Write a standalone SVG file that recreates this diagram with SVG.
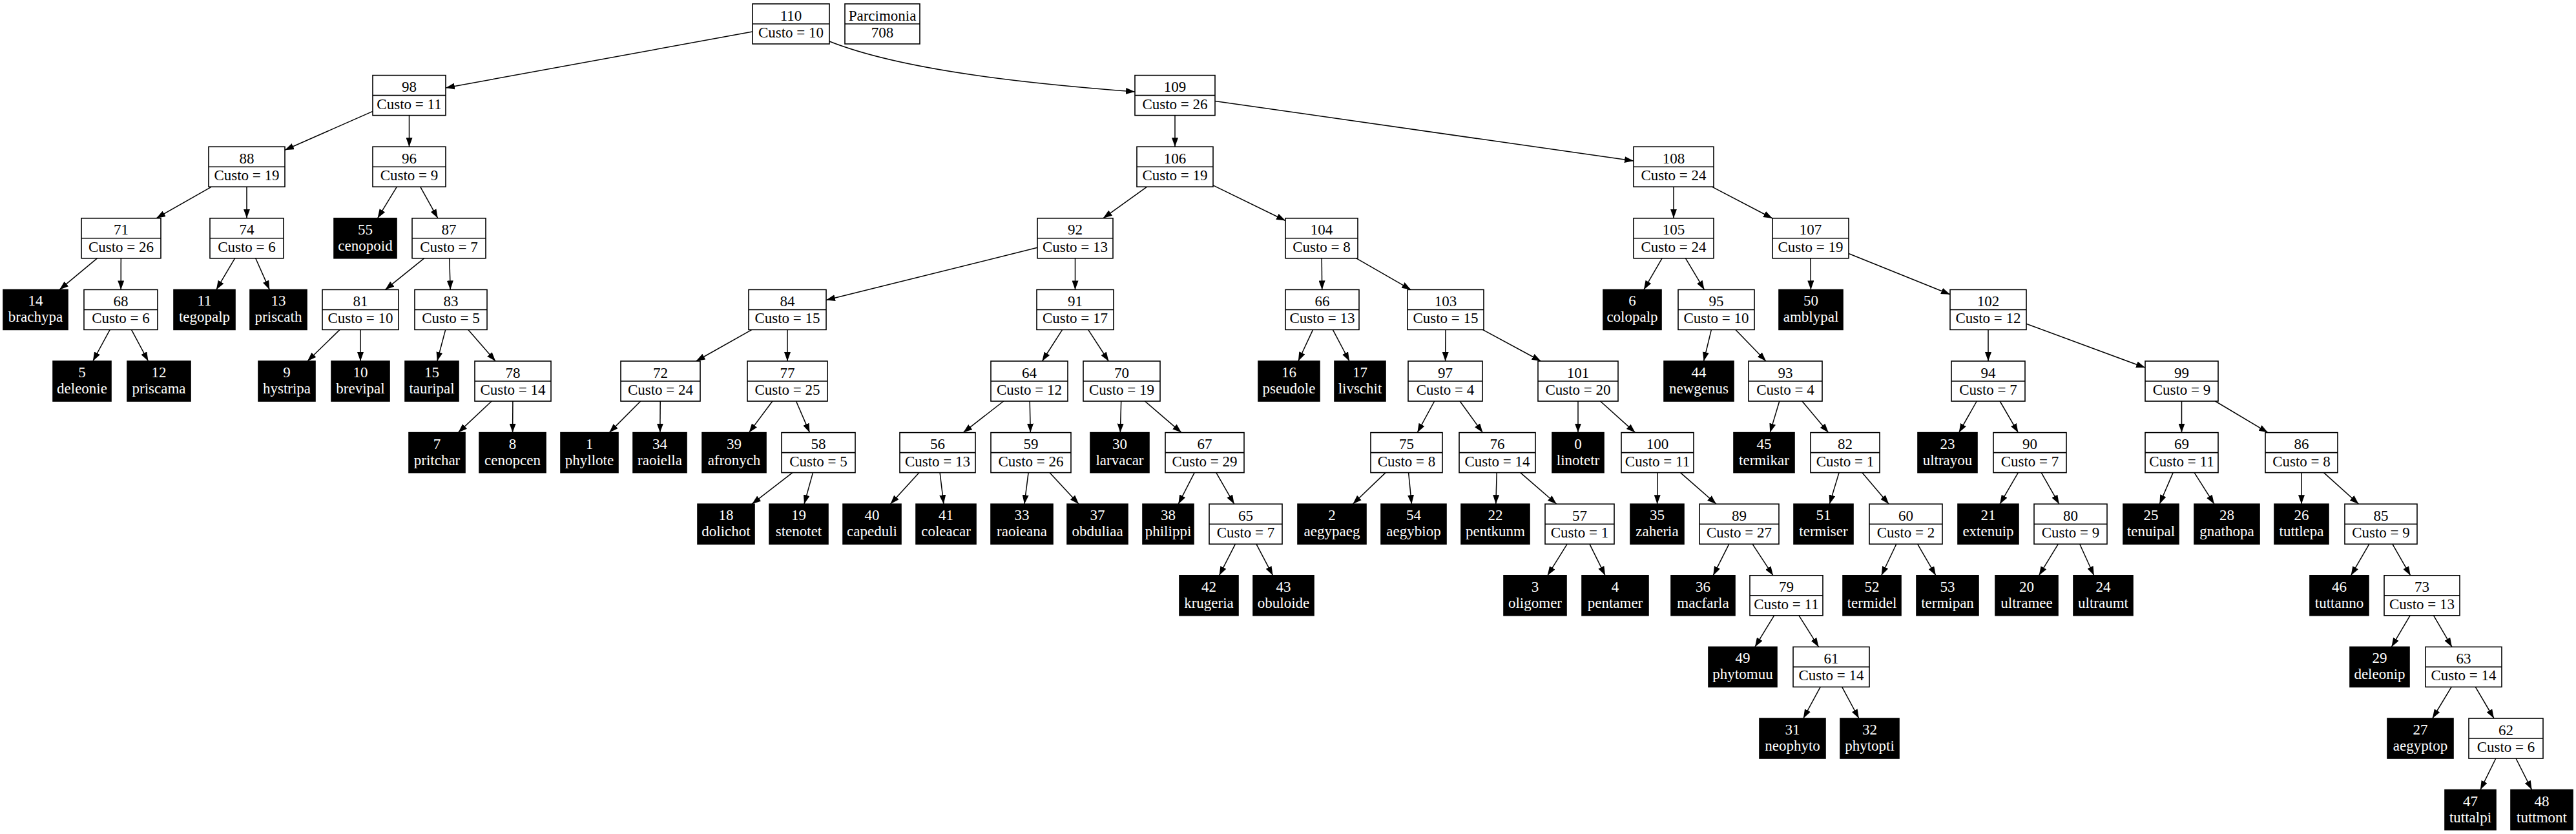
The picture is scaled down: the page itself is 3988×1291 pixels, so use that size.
<svg xmlns="http://www.w3.org/2000/svg" width="3988" height="1291" viewBox="0 0 3988 1291">
<style>
.r rect{fill:#fff;stroke:#000;stroke-width:1.6}
.r line{stroke:#000;stroke-width:1.6}
.l rect{fill:#000;stroke:#000;stroke-width:1.6}
text{font-family:"Liberation Serif","Times New Roman",serif;font-size:23px;text-anchor:middle}
.r text{fill:#000}
.l text{fill:#fff}
#edges path{fill:none;stroke:#000;stroke-width:1.5;marker-end:url(#ah)}
</style>
<defs>
<marker id="ah" markerUnits="userSpaceOnUse" markerWidth="14" markerHeight="10" viewBox="0 0 14 10" refX="14" refY="5" orient="auto">
<path d="M0,0 L14,5 L0,10 z" fill="#000"/>
</marker>
</defs>
<rect width="3988" height="1291" fill="#fff"/>
<g id="edges">
<path d="M1165,49 L690,136"/>
<path d="M1284,64 C1400,110 1600,130 1757,142"/>
<path d="M577,172.4 L441,232.3"/>
<path d="M633.5,178.6 L633.5,227.2"/>
<path d="M327.5,289.2 L242,337.8"/>
<path d="M382,289.2 L382,337.8"/>
<path d="M614.4,289.2 L584.6,337.8"/>
<path d="M650.7,289.2 L677.8,337.8"/>
<path d="M150.4,399.8 L92.1,448.4"/>
<path d="M187.3,399.8 L187.2,448.4"/>
<path d="M363.6,399.8 L334.9,448.4"/>
<path d="M395.7,399.8 L417.3,448.4"/>
<path d="M656.6,399.8 L596.4,448.4"/>
<path d="M695.8,399.8 L697.2,448.4"/>
<path d="M170.2,510.4 L143.8,559"/>
<path d="M203.5,510.4 L229.5,559"/>
<path d="M526,510.4 L476,559"/>
<path d="M558,510.4 L558,559"/>
<path d="M689.7,510.4 L676.8,559"/>
<path d="M724.9,510.4 L767.1,559"/>
<path d="M761.1,621 L709.4,669.6"/>
<path d="M793.9,621 L793.6,669.6"/>
<path d="M1819,178.6 L1819,227.2"/>
<path d="M1881,156.4 L2529,249.1"/>
<path d="M1775.7,289.2 L1707.8,337.8"/>
<path d="M1878,286.9 L1990,341.5"/>
<path d="M2591,289.2 L2591,337.8"/>
<path d="M2650.4,289.2 L2744,338"/>
<path d="M1606,383.3 L1279,464.5"/>
<path d="M1664.5,399.8 L1664.5,448.4"/>
<path d="M2046.2,399.8 L2046.7,448.4"/>
<path d="M2099.8,399.8 L2184.2,448.4"/>
<path d="M2573.1,399.8 L2544.9,448.4"/>
<path d="M2609.5,399.8 L2638.5,448.4"/>
<path d="M2803,399.8 L2803.4,448.4"/>
<path d="M2862,392.5 L3019,455.7"/>
<path d="M1163.9,510.4 L1077.6,559"/>
<path d="M1219,510.4 L1219,559"/>
<path d="M1644.6,510.4 L1613.4,559"/>
<path d="M1684.7,510.4 L1716.3,559"/>
<path d="M2032.6,510.4 L2009.9,559"/>
<path d="M2063.4,510.4 L2089.1,559"/>
<path d="M2238,510.4 L2237.6,559"/>
<path d="M2295.5,510.4 L2385.5,559"/>
<path d="M2649.4,510.4 L2637.6,559"/>
<path d="M2687,510.4 L2734,559"/>
<path d="M3078,510.4 L3078,559"/>
<path d="M3137,501.2 L3321,569.1"/>
<path d="M991.7,621 L943.3,669.6"/>
<path d="M1022.2,621 L1021.8,669.6"/>
<path d="M1195.9,621 L1159.6,669.6"/>
<path d="M1232.5,621 L1253.5,669.6"/>
<path d="M1553.7,621 L1491.3,669.6"/>
<path d="M1594.2,621 L1595.3,669.6"/>
<path d="M1735.7,621 L1734.3,669.6"/>
<path d="M1772.5,621 L1829,669.6"/>
<path d="M2220.7,621 L2194.3,669.6"/>
<path d="M2260.1,621 L2295.4,669.6"/>
<path d="M2443,621 L2443,669.6"/>
<path d="M2477.5,621 L2531.5,669.6"/>
<path d="M2754.8,621 L2740.2,669.6"/>
<path d="M2789.9,621 L2830.6,669.6"/>
<path d="M3060.3,621 L3032.7,669.6"/>
<path d="M3096.1,621 L3124.4,669.6"/>
<path d="M3377.5,621 L3377.5,669.6"/>
<path d="M3429.5,621 L3511,669.6"/>
<path d="M1226.9,731.6 L1164.1,780.2"/>
<path d="M1258.5,731.6 L1245,780.2"/>
<path d="M1423,731.6 L1378.5,780.2"/>
<path d="M1455.1,731.6 L1460.9,780.2"/>
<path d="M1592.1,731.6 L1585.9,780.2"/>
<path d="M1624.9,731.6 L1670.1,780.2"/>
<path d="M1849.2,731.6 L1824.3,780.2"/>
<path d="M1882.8,731.6 L1910.7,780.2"/>
<path d="M2145.1,731.6 L2094.4,780.2"/>
<path d="M2180.6,731.6 L2185.4,780.2"/>
<path d="M2317.2,731.6 L2315.8,780.2"/>
<path d="M2353.7,731.6 L2409.8,780.2"/>
<path d="M2566,731.6 L2565.6,780.2"/>
<path d="M2601.5,731.6 L2657,780.2"/>
<path d="M2847.1,731.6 L2832.4,780.2"/>
<path d="M2882.8,731.6 L2924.2,780.2"/>
<path d="M3124.4,731.6 L3096.1,780.2"/>
<path d="M3160.2,731.6 L3187.8,780.2"/>
<path d="M3364.2,731.6 L3343.3,780.2"/>
<path d="M3397.1,731.6 L3427.9,780.2"/>
<path d="M3563,731.6 L3563,780.2"/>
<path d="M3597.5,731.6 L3651.5,780.2"/>
<path d="M1912.5,842.2 L1887.5,890.8"/>
<path d="M1944.9,842.2 L1970.6,890.8"/>
<path d="M2426.2,842.2 L2395.8,890.8"/>
<path d="M2460.9,842.2 L2485.1,890.8"/>
<path d="M2676.8,842.2 L2652.2,890.8"/>
<path d="M2713,842.2 L2745,890.8"/>
<path d="M2935.8,842.2 L2912.7,890.8"/>
<path d="M2968.6,842.2 L2996.9,890.8"/>
<path d="M3186.4,842.2 L3156.6,890.8"/>
<path d="M3219.7,842.2 L3241.8,890.8"/>
<path d="M3667.9,842.2 L3639.6,890.8"/>
<path d="M3703.8,842.2 L3731.7,890.8"/>
<path d="M2746.6,952.8 L2716.9,1001.4"/>
<path d="M2785,952.8 L2815.5,1001.4"/>
<path d="M3731.1,952.8 L3702.4,1001.4"/>
<path d="M3767.6,952.8 L3795.9,1001.4"/>
<path d="M2818.2,1063.4 L2791.8,1112"/>
<path d="M2851.7,1063.4 L2877.8,1112"/>
<path d="M3795.2,1063.4 L3765.8,1112"/>
<path d="M3832.3,1063.4 L3861,1112"/>
<path d="M3863.9,1174 L3839.9,1222.6"/>
<path d="M3895,1174 L3919.6,1222.6"/>
</g>
<g id="n110" class="r" transform="translate(1165,6)"><rect width="119" height="62"/><line x1="0" y1="31" x2="119" y2="31"/><text x="59.5" y="25.5">110</text><text x="59.5" y="52">Custo = 10</text></g>
<g id="parcimonia" class="r" transform="translate(1308,6)"><rect width="116" height="62"/><line x1="0" y1="31" x2="116" y2="31"/><text x="58" y="25.5">Parcimonia</text><text x="58" y="52">708</text></g>
<g id="n98" class="r" transform="translate(577,116.6)"><rect width="113" height="62"/><line x1="0" y1="31" x2="113" y2="31"/><text x="56.5" y="25.5">98</text><text x="56.5" y="52">Custo = 11</text></g>
<g id="n109" class="r" transform="translate(1757,116.6)"><rect width="124" height="62"/><line x1="0" y1="31" x2="124" y2="31"/><text x="62" y="25.5">109</text><text x="62" y="52">Custo = 26</text></g>
<g id="n88" class="r" transform="translate(323,227.2)"><rect width="118" height="62"/><line x1="0" y1="31" x2="118" y2="31"/><text x="59" y="25.5">88</text><text x="59" y="52">Custo = 19</text></g>
<g id="n96" class="r" transform="translate(577,227.2)"><rect width="113" height="62"/><line x1="0" y1="31" x2="113" y2="31"/><text x="56.5" y="25.5">96</text><text x="56.5" y="52">Custo = 9</text></g>
<g id="n106" class="r" transform="translate(1760,227.2)"><rect width="118" height="62"/><line x1="0" y1="31" x2="118" y2="31"/><text x="59" y="25.5">106</text><text x="59" y="52">Custo = 19</text></g>
<g id="n108" class="r" transform="translate(2529,227.2)"><rect width="124" height="62"/><line x1="0" y1="31" x2="124" y2="31"/><text x="62" y="25.5">108</text><text x="62" y="52">Custo = 24</text></g>
<g id="n71" class="r" transform="translate(126,337.8)"><rect width="123" height="62"/><line x1="0" y1="31" x2="123" y2="31"/><text x="61.5" y="25.5">71</text><text x="61.5" y="52">Custo = 26</text></g>
<g id="n74" class="r" transform="translate(325,337.8)"><rect width="114" height="62"/><line x1="0" y1="31" x2="114" y2="31"/><text x="57" y="25.5">74</text><text x="57" y="52">Custo = 6</text></g>
<g id="n55" class="l" transform="translate(517,337.8)"><rect width="97" height="62"/><text x="48.5" y="25">55</text><text x="48.5" y="50">cenopoid</text></g>
<g id="n87" class="r" transform="translate(638,337.8)"><rect width="114" height="62"/><line x1="0" y1="31" x2="114" y2="31"/><text x="57" y="25.5">87</text><text x="57" y="52">Custo = 7</text></g>
<g id="n92" class="r" transform="translate(1606,337.8)"><rect width="117" height="62"/><line x1="0" y1="31" x2="117" y2="31"/><text x="58.5" y="25.5">92</text><text x="58.5" y="52">Custo = 13</text></g>
<g id="n104" class="r" transform="translate(1990,337.8)"><rect width="112" height="62"/><line x1="0" y1="31" x2="112" y2="31"/><text x="56" y="25.5">104</text><text x="56" y="52">Custo = 8</text></g>
<g id="n105" class="r" transform="translate(2529,337.8)"><rect width="124" height="62"/><line x1="0" y1="31" x2="124" y2="31"/><text x="62" y="25.5">105</text><text x="62" y="52">Custo = 24</text></g>
<g id="n107" class="r" transform="translate(2744,337.8)"><rect width="118" height="62"/><line x1="0" y1="31" x2="118" y2="31"/><text x="59" y="25.5">107</text><text x="59" y="52">Custo = 19</text></g>
<g id="n14" class="l" transform="translate(5,448.4)"><rect width="100" height="62"/><text x="50" y="25">14</text><text x="50" y="50">brachypa</text></g>
<g id="n68" class="r" transform="translate(130,448.4)"><rect width="114" height="62"/><line x1="0" y1="31" x2="114" y2="31"/><text x="57" y="25.5">68</text><text x="57" y="52">Custo = 6</text></g>
<g id="n11" class="l" transform="translate(269,448.4)"><rect width="95" height="62"/><text x="47.5" y="25">11</text><text x="47.5" y="50">tegopalp</text></g>
<g id="n13" class="l" transform="translate(387,448.4)"><rect width="88" height="62"/><text x="44" y="25">13</text><text x="44" y="50">priscath</text></g>
<g id="n81" class="r" transform="translate(499,448.4)"><rect width="118" height="62"/><line x1="0" y1="31" x2="118" y2="31"/><text x="59" y="25.5">81</text><text x="59" y="52">Custo = 10</text></g>
<g id="n83" class="r" transform="translate(642,448.4)"><rect width="112" height="62"/><line x1="0" y1="31" x2="112" y2="31"/><text x="56" y="25.5">83</text><text x="56" y="52">Custo = 5</text></g>
<g id="n84" class="r" transform="translate(1159,448.4)"><rect width="120" height="62"/><line x1="0" y1="31" x2="120" y2="31"/><text x="60" y="25.5">84</text><text x="60" y="52">Custo = 15</text></g>
<g id="n91" class="r" transform="translate(1605,448.4)"><rect width="119" height="62"/><line x1="0" y1="31" x2="119" y2="31"/><text x="59.5" y="25.5">91</text><text x="59.5" y="52">Custo = 17</text></g>
<g id="n66" class="r" transform="translate(1990,448.4)"><rect width="114" height="62"/><line x1="0" y1="31" x2="114" y2="31"/><text x="57" y="25.5">66</text><text x="57" y="52">Custo = 13</text></g>
<g id="n103" class="r" transform="translate(2179,448.4)"><rect width="118" height="62"/><line x1="0" y1="31" x2="118" y2="31"/><text x="59" y="25.5">103</text><text x="59" y="52">Custo = 15</text></g>
<g id="n6" class="l" transform="translate(2482,448.4)"><rect width="90" height="62"/><text x="45" y="25">6</text><text x="45" y="50">colopalp</text></g>
<g id="n95" class="r" transform="translate(2598,448.4)"><rect width="118" height="62"/><line x1="0" y1="31" x2="118" y2="31"/><text x="59" y="25.5">95</text><text x="59" y="52">Custo = 10</text></g>
<g id="n50" class="l" transform="translate(2754,448.4)"><rect width="99" height="62"/><text x="49.5" y="25">50</text><text x="49.5" y="50">amblypal</text></g>
<g id="n102" class="r" transform="translate(3019,448.4)"><rect width="118" height="62"/><line x1="0" y1="31" x2="118" y2="31"/><text x="59" y="25.5">102</text><text x="59" y="52">Custo = 12</text></g>
<g id="n5" class="l" transform="translate(82,559)"><rect width="90" height="62"/><text x="45" y="25">5</text><text x="45" y="50">deleonie</text></g>
<g id="n12" class="l" transform="translate(197,559)"><rect width="98" height="62"/><text x="49" y="25">12</text><text x="49" y="50">priscama</text></g>
<g id="n9" class="l" transform="translate(400,559)"><rect width="88" height="62"/><text x="44" y="25">9</text><text x="44" y="50">hystripa</text></g>
<g id="n10" class="l" transform="translate(513,559)"><rect width="90" height="62"/><text x="45" y="25">10</text><text x="45" y="50">brevipal</text></g>
<g id="n15" class="l" transform="translate(627,559)"><rect width="83" height="62"/><text x="41.5" y="25">15</text><text x="41.5" y="50">tauripal</text></g>
<g id="n78" class="r" transform="translate(735,559)"><rect width="118" height="62"/><line x1="0" y1="31" x2="118" y2="31"/><text x="59" y="25.5">78</text><text x="59" y="52">Custo = 14</text></g>
<g id="n72" class="r" transform="translate(961,559)"><rect width="123" height="62"/><line x1="0" y1="31" x2="123" y2="31"/><text x="61.5" y="25.5">72</text><text x="61.5" y="52">Custo = 24</text></g>
<g id="n77" class="r" transform="translate(1157,559)"><rect width="124" height="62"/><line x1="0" y1="31" x2="124" y2="31"/><text x="62" y="25.5">77</text><text x="62" y="52">Custo = 25</text></g>
<g id="n64" class="r" transform="translate(1534,559)"><rect width="119" height="62"/><line x1="0" y1="31" x2="119" y2="31"/><text x="59.5" y="25.5">64</text><text x="59.5" y="52">Custo = 12</text></g>
<g id="n70" class="r" transform="translate(1677,559)"><rect width="119" height="62"/><line x1="0" y1="31" x2="119" y2="31"/><text x="59.5" y="25.5">70</text><text x="59.5" y="52">Custo = 19</text></g>
<g id="n16" class="l" transform="translate(1948,559)"><rect width="95" height="62"/><text x="47.5" y="25">16</text><text x="47.5" y="50">pseudole</text></g>
<g id="n17" class="l" transform="translate(2066,559)"><rect width="79" height="62"/><text x="39.5" y="25">17</text><text x="39.5" y="50">livschit</text></g>
<g id="n97" class="r" transform="translate(2180,559)"><rect width="115" height="62"/><line x1="0" y1="31" x2="115" y2="31"/><text x="57.5" y="25.5">97</text><text x="57.5" y="52">Custo = 4</text></g>
<g id="n101" class="r" transform="translate(2381,559)"><rect width="124" height="62"/><line x1="0" y1="31" x2="124" y2="31"/><text x="62" y="25.5">101</text><text x="62" y="52">Custo = 20</text></g>
<g id="n44" class="l" transform="translate(2576,559)"><rect width="108" height="62"/><text x="54" y="25">44</text><text x="54" y="50">newgenus</text></g>
<g id="n93" class="r" transform="translate(2707,559)"><rect width="114" height="62"/><line x1="0" y1="31" x2="114" y2="31"/><text x="57" y="25.5">93</text><text x="57" y="52">Custo = 4</text></g>
<g id="n94" class="r" transform="translate(3021,559)"><rect width="114" height="62"/><line x1="0" y1="31" x2="114" y2="31"/><text x="57" y="25.5">94</text><text x="57" y="52">Custo = 7</text></g>
<g id="n99" class="r" transform="translate(3321,559)"><rect width="113" height="62"/><line x1="0" y1="31" x2="113" y2="31"/><text x="56.5" y="25.5">99</text><text x="56.5" y="52">Custo = 9</text></g>
<g id="n7" class="l" transform="translate(633,669.6)"><rect width="87" height="62"/><text x="43.5" y="25">7</text><text x="43.5" y="50">pritchar</text></g>
<g id="n8" class="l" transform="translate(742,669.6)"><rect width="103" height="62"/><text x="51.5" y="25">8</text><text x="51.5" y="50">cenopcen</text></g>
<g id="n1" class="l" transform="translate(868,669.6)"><rect width="89" height="62"/><text x="44.5" y="25">1</text><text x="44.5" y="50">phyllote</text></g>
<g id="n34" class="l" transform="translate(980,669.6)"><rect width="83" height="62"/><text x="41.5" y="25">34</text><text x="41.5" y="50">raoiella</text></g>
<g id="n39" class="l" transform="translate(1087,669.6)"><rect width="99" height="62"/><text x="49.5" y="25">39</text><text x="49.5" y="50">afronych</text></g>
<g id="n58" class="r" transform="translate(1210,669.6)"><rect width="114" height="62"/><line x1="0" y1="31" x2="114" y2="31"/><text x="57" y="25.5">58</text><text x="57" y="52">Custo = 5</text></g>
<g id="n56" class="r" transform="translate(1393,669.6)"><rect width="117" height="62"/><line x1="0" y1="31" x2="117" y2="31"/><text x="58.5" y="25.5">56</text><text x="58.5" y="52">Custo = 13</text></g>
<g id="n59" class="r" transform="translate(1534,669.6)"><rect width="124" height="62"/><line x1="0" y1="31" x2="124" y2="31"/><text x="62" y="25.5">59</text><text x="62" y="52">Custo = 26</text></g>
<g id="n30" class="l" transform="translate(1688,669.6)"><rect width="91" height="62"/><text x="45.5" y="25">30</text><text x="45.5" y="50">larvacar</text></g>
<g id="n67" class="r" transform="translate(1804,669.6)"><rect width="122" height="62"/><line x1="0" y1="31" x2="122" y2="31"/><text x="61" y="25.5">67</text><text x="61" y="52">Custo = 29</text></g>
<g id="n75" class="r" transform="translate(2122,669.6)"><rect width="111" height="62"/><line x1="0" y1="31" x2="111" y2="31"/><text x="55.5" y="25.5">75</text><text x="55.5" y="52">Custo = 8</text></g>
<g id="n76" class="r" transform="translate(2259,669.6)"><rect width="118" height="62"/><line x1="0" y1="31" x2="118" y2="31"/><text x="59" y="25.5">76</text><text x="59" y="52">Custo = 14</text></g>
<g id="n0" class="l" transform="translate(2403,669.6)"><rect width="80" height="62"/><text x="40" y="25">0</text><text x="40" y="50">linotetr</text></g>
<g id="n100" class="r" transform="translate(2510,669.6)"><rect width="112" height="62"/><line x1="0" y1="31" x2="112" y2="31"/><text x="56" y="25.5">100</text><text x="56" y="52">Custo = 11</text></g>
<g id="n45" class="l" transform="translate(2684,669.6)"><rect width="94" height="62"/><text x="47" y="25">45</text><text x="47" y="50">termikar</text></g>
<g id="n82" class="r" transform="translate(2803,669.6)"><rect width="107" height="62"/><line x1="0" y1="31" x2="107" y2="31"/><text x="53.5" y="25.5">82</text><text x="53.5" y="52">Custo = 1</text></g>
<g id="n23" class="l" transform="translate(2969,669.6)"><rect width="92" height="62"/><text x="46" y="25">23</text><text x="46" y="50">ultrayou</text></g>
<g id="n90" class="r" transform="translate(3086,669.6)"><rect width="113" height="62"/><line x1="0" y1="31" x2="113" y2="31"/><text x="56.5" y="25.5">90</text><text x="56.5" y="52">Custo = 7</text></g>
<g id="n69" class="r" transform="translate(3321,669.6)"><rect width="113" height="62"/><line x1="0" y1="31" x2="113" y2="31"/><text x="56.5" y="25.5">69</text><text x="56.5" y="52">Custo = 11</text></g>
<g id="n86" class="r" transform="translate(3507,669.6)"><rect width="112" height="62"/><line x1="0" y1="31" x2="112" y2="31"/><text x="56" y="25.5">86</text><text x="56" y="52">Custo = 8</text></g>
<g id="n18" class="l" transform="translate(1080,780.2)"><rect width="88" height="62"/><text x="44" y="25">18</text><text x="44" y="50">dolichot</text></g>
<g id="n19" class="l" transform="translate(1191,780.2)"><rect width="91" height="62"/><text x="45.5" y="25">19</text><text x="45.5" y="50">stenotet</text></g>
<g id="n40" class="l" transform="translate(1305,780.2)"><rect width="90" height="62"/><text x="45" y="25">40</text><text x="45" y="50">capeduli</text></g>
<g id="n41" class="l" transform="translate(1418,780.2)"><rect width="93" height="62"/><text x="46.5" y="25">41</text><text x="46.5" y="50">coleacar</text></g>
<g id="n33" class="l" transform="translate(1534,780.2)"><rect width="96" height="62"/><text x="48" y="25">33</text><text x="48" y="50">raoieana</text></g>
<g id="n37" class="l" transform="translate(1652,780.2)"><rect width="94" height="62"/><text x="47" y="25">37</text><text x="47" y="50">obduliaa</text></g>
<g id="n38" class="l" transform="translate(1769,780.2)"><rect width="79" height="62"/><text x="39.5" y="25">38</text><text x="39.5" y="50">philippi</text></g>
<g id="n65" class="r" transform="translate(1872,780.2)"><rect width="113" height="62"/><line x1="0" y1="31" x2="113" y2="31"/><text x="56.5" y="25.5">65</text><text x="56.5" y="52">Custo = 7</text></g>
<g id="n2" class="l" transform="translate(2009,780.2)"><rect width="106" height="62"/><text x="53" y="25">2</text><text x="53" y="50">aegypaeg</text></g>
<g id="n54" class="l" transform="translate(2138,780.2)"><rect width="101" height="62"/><text x="50.5" y="25">54</text><text x="50.5" y="50">aegybiop</text></g>
<g id="n22" class="l" transform="translate(2262,780.2)"><rect width="106" height="62"/><text x="53" y="25">22</text><text x="53" y="50">pentkunm</text></g>
<g id="n57" class="r" transform="translate(2392,780.2)"><rect width="107" height="62"/><line x1="0" y1="31" x2="107" y2="31"/><text x="53.5" y="25.5">57</text><text x="53.5" y="52">Custo = 1</text></g>
<g id="n35" class="l" transform="translate(2524,780.2)"><rect width="83" height="62"/><text x="41.5" y="25">35</text><text x="41.5" y="50">zaheria</text></g>
<g id="n89" class="r" transform="translate(2631,780.2)"><rect width="123" height="62"/><line x1="0" y1="31" x2="123" y2="31"/><text x="61.5" y="25.5">89</text><text x="61.5" y="52">Custo = 27</text></g>
<g id="n51" class="l" transform="translate(2777,780.2)"><rect width="92" height="62"/><text x="46" y="25">51</text><text x="46" y="50">termiser</text></g>
<g id="n60" class="r" transform="translate(2894,780.2)"><rect width="113" height="62"/><line x1="0" y1="31" x2="113" y2="31"/><text x="56.5" y="25.5">60</text><text x="56.5" y="52">Custo = 2</text></g>
<g id="n21" class="l" transform="translate(3031,780.2)"><rect width="94" height="62"/><text x="47" y="25">21</text><text x="47" y="50">extenuip</text></g>
<g id="n80" class="r" transform="translate(3149,780.2)"><rect width="113" height="62"/><line x1="0" y1="31" x2="113" y2="31"/><text x="56.5" y="25.5">80</text><text x="56.5" y="52">Custo = 9</text></g>
<g id="n25" class="l" transform="translate(3287,780.2)"><rect width="86" height="62"/><text x="43" y="25">25</text><text x="43" y="50">tenuipal</text></g>
<g id="n28" class="l" transform="translate(3397,780.2)"><rect width="101" height="62"/><text x="50.5" y="25">28</text><text x="50.5" y="50">gnathopa</text></g>
<g id="n26" class="l" transform="translate(3521,780.2)"><rect width="84" height="62"/><text x="42" y="25">26</text><text x="42" y="50">tuttlepa</text></g>
<g id="n85" class="r" transform="translate(3630,780.2)"><rect width="112" height="62"/><line x1="0" y1="31" x2="112" y2="31"/><text x="56" y="25.5">85</text><text x="56" y="52">Custo = 9</text></g>
<g id="n42" class="l" transform="translate(1826,890.8)"><rect width="91" height="62"/><text x="45.5" y="25">42</text><text x="45.5" y="50">krugeria</text></g>
<g id="n43" class="l" transform="translate(1940,890.8)"><rect width="94" height="62"/><text x="47" y="25">43</text><text x="47" y="50">obuloide</text></g>
<g id="n3" class="l" transform="translate(2328,890.8)"><rect width="97" height="62"/><text x="48.5" y="25">3</text><text x="48.5" y="50">oligomer</text></g>
<g id="n4" class="l" transform="translate(2449,890.8)"><rect width="103" height="62"/><text x="51.5" y="25">4</text><text x="51.5" y="50">pentamer</text></g>
<g id="n36" class="l" transform="translate(2587,890.8)"><rect width="99" height="62"/><text x="49.5" y="25">36</text><text x="49.5" y="50">macfarla</text></g>
<g id="n79" class="r" transform="translate(2709,890.8)"><rect width="113" height="62"/><line x1="0" y1="31" x2="113" y2="31"/><text x="56.5" y="25.5">79</text><text x="56.5" y="52">Custo = 11</text></g>
<g id="n52" class="l" transform="translate(2853,890.8)"><rect width="90" height="62"/><text x="45" y="25">52</text><text x="45" y="50">termidel</text></g>
<g id="n53" class="l" transform="translate(2967,890.8)"><rect width="96" height="62"/><text x="48" y="25">53</text><text x="48" y="50">termipan</text></g>
<g id="n20" class="l" transform="translate(3089,890.8)"><rect width="97" height="62"/><text x="48.5" y="25">20</text><text x="48.5" y="50">ultramee</text></g>
<g id="n24" class="l" transform="translate(3210,890.8)"><rect width="92" height="62"/><text x="46" y="25">24</text><text x="46" y="50">ultraumt</text></g>
<g id="n46" class="l" transform="translate(3576,890.8)"><rect width="91" height="62"/><text x="45.5" y="25">46</text><text x="45.5" y="50">tuttanno</text></g>
<g id="n73" class="r" transform="translate(3691,890.8)"><rect width="117" height="62"/><line x1="0" y1="31" x2="117" y2="31"/><text x="58.5" y="25.5">73</text><text x="58.5" y="52">Custo = 13</text></g>
<g id="n49" class="l" transform="translate(2645,1001.4)"><rect width="106" height="62"/><text x="53" y="25">49</text><text x="53" y="50">phytomuu</text></g>
<g id="n61" class="r" transform="translate(2776,1001.4)"><rect width="118" height="62"/><line x1="0" y1="31" x2="118" y2="31"/><text x="59" y="25.5">61</text><text x="59" y="52">Custo = 14</text></g>
<g id="n29" class="l" transform="translate(3638,1001.4)"><rect width="92" height="62"/><text x="46" y="25">29</text><text x="46" y="50">deleonip</text></g>
<g id="n63" class="r" transform="translate(3755,1001.4)"><rect width="118" height="62"/><line x1="0" y1="31" x2="118" y2="31"/><text x="59" y="25.5">63</text><text x="59" y="52">Custo = 14</text></g>
<g id="n31" class="l" transform="translate(2724,1112)"><rect width="102" height="62"/><text x="51" y="25">31</text><text x="51" y="50">neophyto</text></g>
<g id="n32" class="l" transform="translate(2849,1112)"><rect width="91" height="62"/><text x="45.5" y="25">32</text><text x="45.5" y="50">phytopti</text></g>
<g id="n27" class="l" transform="translate(3696,1112)"><rect width="102" height="62"/><text x="51" y="25">27</text><text x="51" y="50">aegyptop</text></g>
<g id="n62" class="r" transform="translate(3822,1112)"><rect width="115" height="62"/><line x1="0" y1="31" x2="115" y2="31"/><text x="57.5" y="25.5">62</text><text x="57.5" y="52">Custo = 6</text></g>
<g id="n47" class="l" transform="translate(3785,1222.6)"><rect width="79" height="62"/><text x="39.5" y="25">47</text><text x="39.5" y="50">tuttalpi</text></g>
<g id="n48" class="l" transform="translate(3887,1222.6)"><rect width="96" height="62"/><text x="48" y="25">48</text><text x="48" y="50">tuttmont</text></g>
</svg>
